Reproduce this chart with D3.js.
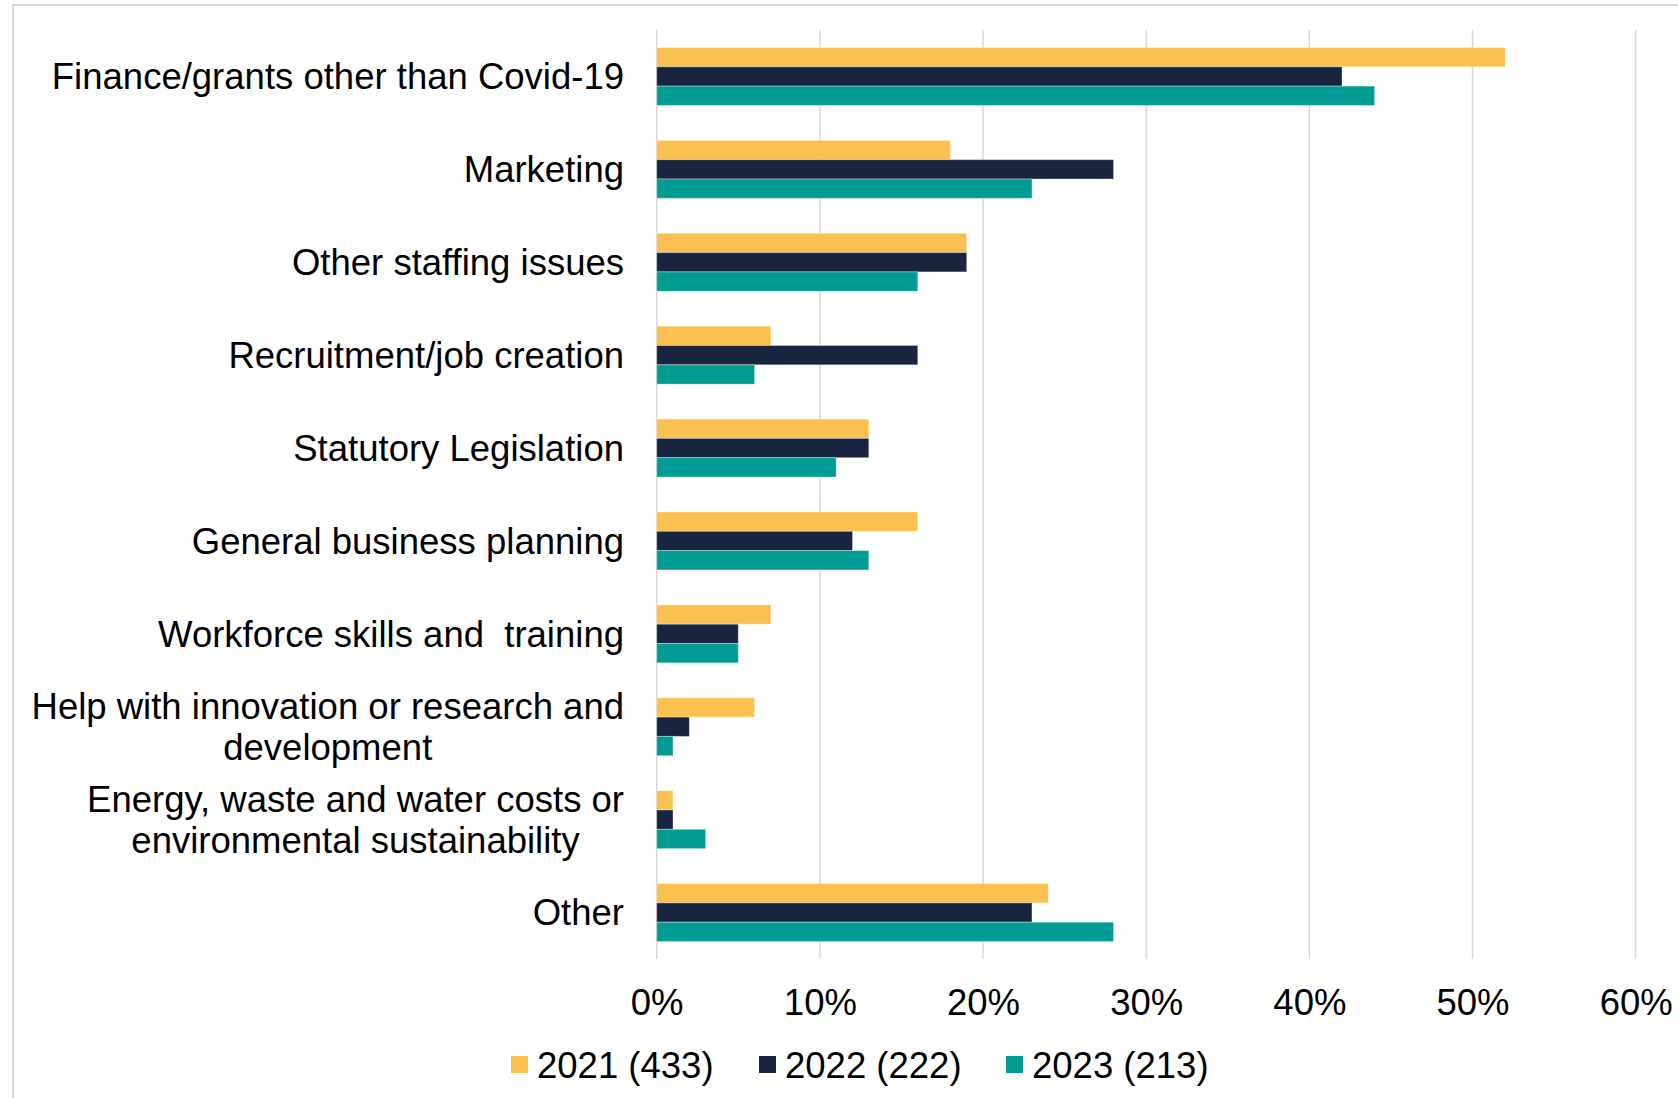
<!DOCTYPE html>
<html>
<head>
<meta charset="utf-8">
<script src="https://cdn.jsdelivr.net/npm/d3@7"></script>
<style>
  body { margin: 0; background: #fff; }
  text { font-family: "Liberation Sans", Arial, sans-serif; fill: #000; }
</style>
</head>
<body>
<div id="chart"></div>
<script>
// categories (top to bottom), label lines for the wrapped ones
var categories = [
  "Finance/grants other than Covid-19",
  "Marketing",
  "Other staffing issues",
  "Recruitment/job creation",
  "Statutory Legislation",
  "General business planning",
  "Workforce skills and  training",
  "Help with innovation or research and development",
  "Energy, waste and water costs or environmental sustainability",
  "Other"
];
var labelLines = [
  ["Finance/grants other than Covid-19"],
  ["Marketing"],
  ["Other staffing issues"],
  ["Recruitment/job creation"],
  ["Statutory Legislation"],
  ["General business planning"],
  ["Workforce skills and\u00a0 training"],
  ["Help with innovation or research and", "development"],
  ["Energy, waste and water costs or", "environmental sustainability"],
  ["Other"]
];

var seriesNames = ["2021 (433)", "2022 (222)", "2023 (213)"];
var seriesColors = ["#FBC150", "#19243F", "#009B93"];

// values in %
var values2021 = [52, 18, 19, 7, 13, 16, 7, 6, 1, 24];
var values2022 = [42, 28, 19, 16, 13, 12, 5, 2, 1, 23];
var values2023 = [44, 23, 16, 6, 11, 13, 5, 1, 3, 28];

var xTicks = [0, 10, 20, 30, 40, 50, 60];

var seriesValues = [values2021, values2022, values2023];

var W = 1678, H = 1098;
var fontSize = 36.5;

var svg = d3.select("#chart")
  .append("svg")
    .attr("width", W)
    .attr("height", H);

// light frame round the chart
svg.append("rect")
  .attr("x", 13).attr("y", 5)
  .attr("width", W).attr("height", H)
  .attr("fill", "none")
  .attr("stroke", "#d9d9d9")
  .attr("stroke-width", 2);

// scales
var x = d3.scaleLinear()
  .domain([0, 60])
  .range([656.7, 1635.7]);

var y = d3.scaleBand()
  .domain(categories)
  .range([30, 959])
  .paddingInner(0.376)
  .paddingOuter(0.188);

var ySub = d3.scaleBand()
  .domain(seriesNames)
  .range([0, y.bandwidth()]);

// gridlines
svg.append("g")
  .selectAll("line")
  .data(xTicks)
  .enter()
  .append("line")
    .attr("x1", function(d) { return x(d); })
    .attr("x2", function(d) { return x(d); })
    .attr("y1", 30)
    .attr("y2", 959)
    .attr("stroke", "#d9d9d9")
    .attr("stroke-width", 1.5);

// x axis tick labels
var xAxis = svg.append("g")
  .attr("transform", "translate(0,1015)")
  .call(d3.axisBottom(x).tickValues(xTicks).tickSize(0).tickPadding(0)
    .tickFormat(function(d) { return d + "%"; }));
xAxis.select(".domain").remove();
xAxis.selectAll("text")
  .attr("dy", 0)
  .attr("y", 0)
  .style("font-size", fontSize + "px")
  .style("font-family", "'Liberation Sans', Arial, sans-serif")
  .attr("fill", "#000");

// bars
var rows = [];
categories.forEach(function(c, i) {
  seriesNames.forEach(function(s, j) {
    rows.push({cat: c, series: s, value: seriesValues[j][i], color: seriesColors[j]});
  });
});

svg.append("g")
  .selectAll("rect")
  .data(rows)
  .enter()
  .append("rect")
    .attr("x", x(0))
    .attr("y", function(d) { return y(d.cat) + ySub(d.series); })
    .attr("width", function(d) { return x(d.value) - x(0); })
    .attr("height", ySub.bandwidth())
    .attr("fill", function(d) { return d.color; })
    .attr("stroke", "#ffffff")
    .attr("stroke-opacity", 0.35)
    .attr("stroke-width", 1);

// category labels, multi-line ones centred on each other
var lineH = 40.7;
var labelRight = 624;
categories.forEach(function(c, i) {
  var lines = labelLines[i];
  var cy = y(c) + y.bandwidth() / 2;
  var g = svg.append("g");
  var texts = [];
  lines.forEach(function(l, k) {
    var t = g.append("text")
      .attr("y", cy + (k - (lines.length - 1) / 2) * lineH)
      .attr("dy", "0.35em")
      .attr("text-anchor", "middle")
      .style("font-size", fontSize + "px")
      .style("white-space", "pre")
      .text(l);
    texts.push(t);
  });
  var maxW = d3.max(texts, function(t) { return t.node().getComputedTextLength(); });
  texts.forEach(function(t) { t.attr("x", labelRight - maxW / 2); });
});

// legend
var legend = svg.append("g").attr("transform", "translate(0,1065)");
var legendX = [511, 759, 1006];
seriesNames.forEach(function(s, j) {
  legend.append("rect")
    .attr("x", legendX[j])
    .attr("y", -9)
    .attr("width", 17)
    .attr("height", 17)
    .attr("fill", seriesColors[j]);
  legend.append("text")
    .attr("x", legendX[j] + 26)
    .attr("y", 0)
    .attr("dy", "0.35em")
    .style("font-size", fontSize + "px")
    .text(s);
});
</script>
</body>
</html>
